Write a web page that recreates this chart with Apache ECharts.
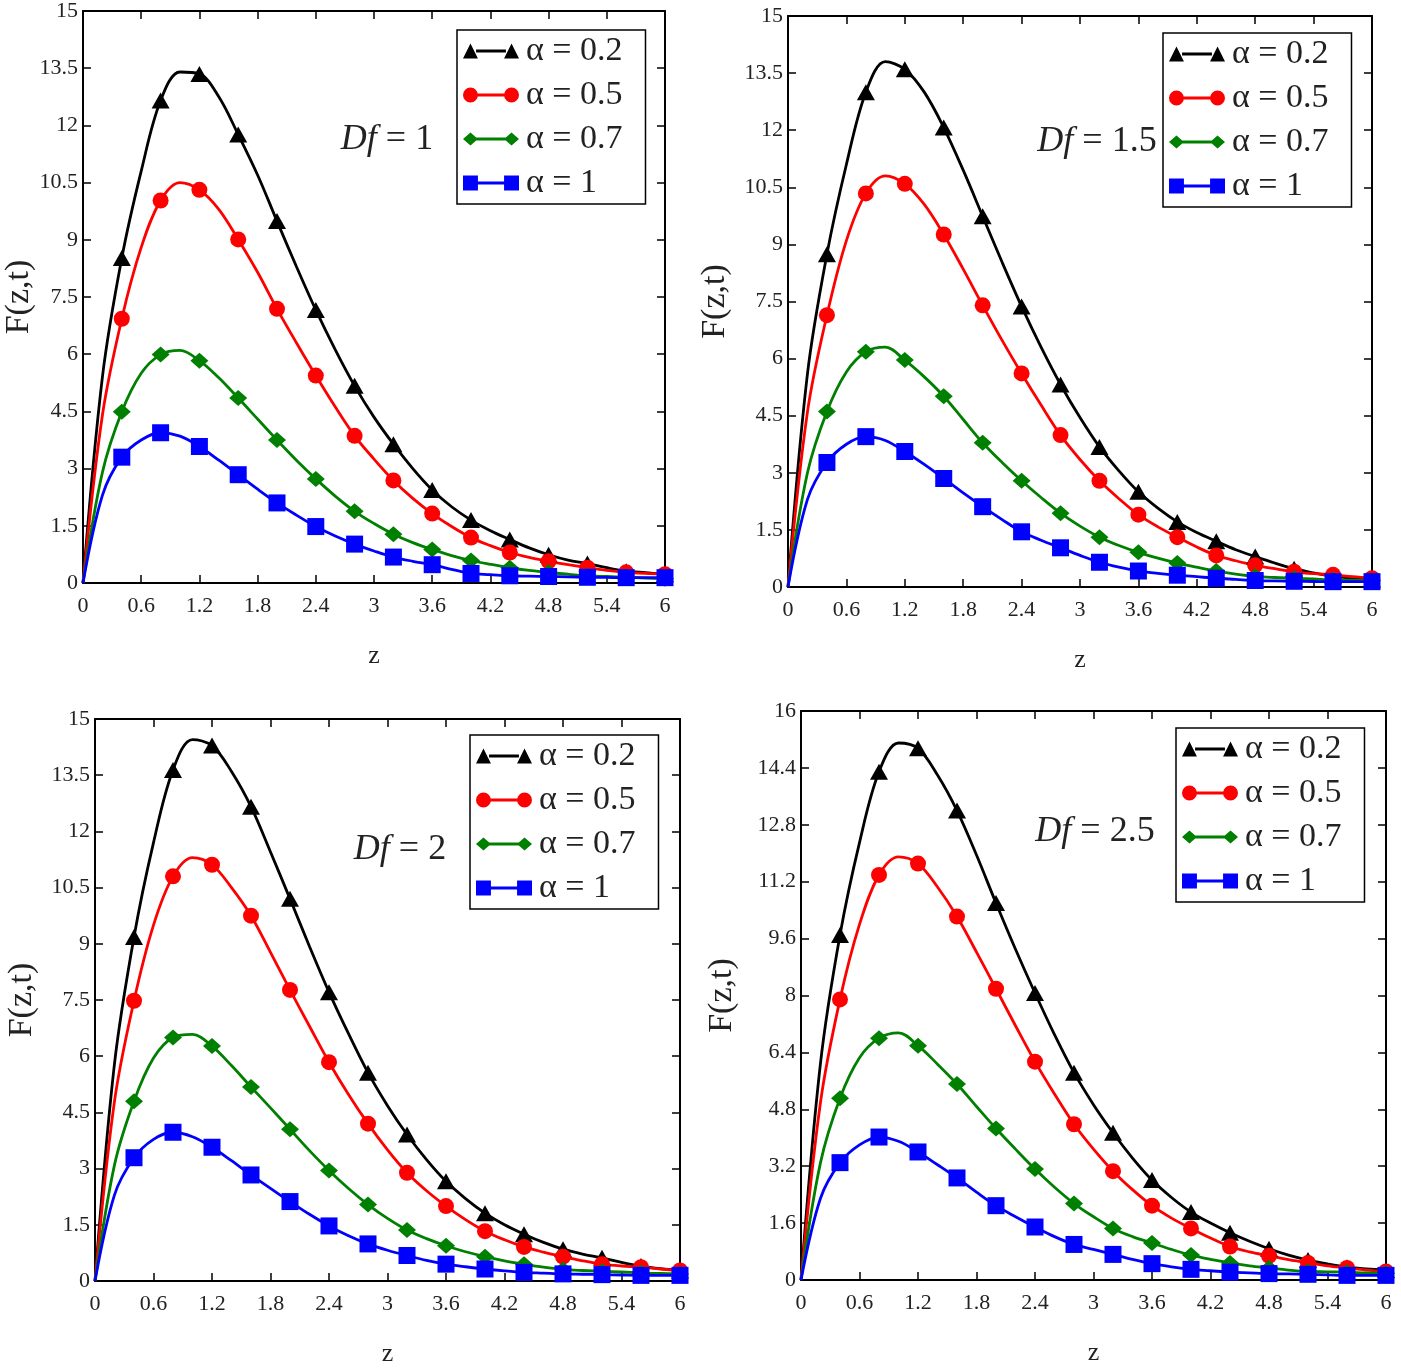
<!DOCTYPE html>
<html>
<head>
<meta charset="utf-8">
<script src="https://cdn.jsdelivr.net/npm/echarts@6/dist/echarts.min.js"></script>
<style>
  html, body { margin: 0; padding: 0; background: #fff; }
  #chart { width: 1401px; height: 1368px; }
</style>
</head>
<body>
<div id="chart"></div>
<script>
// z = 0, 0.2, ..., 6.0 (markers sit on multiples of 0.4)
const zVals = [0, 0.2, 0.4, 0.6, 0.8, 1.0, 1.2, 1.4, 1.6, 1.8, 2.0, 2.2, 2.4, 2.6, 2.8, 3.0,
               3.2, 3.4, 3.6, 3.8, 4.0, 4.2, 4.4, 4.6, 4.8, 5.0, 5.2, 5.4, 5.6, 5.8, 6.0];
const alphaNames = ['α = 0.2', 'α = 0.5', 'α = 0.7', 'α = 1'];
const dfValues = ['1', '1.5', '2', '2.5'];
const xTicks = [0, 6, 0.6];
const yTicks = [[0, 15, 1.5], [0, 15, 1.5], [0, 15, 1.5], [0, 16, 1.6]];

// Df = 1
const p1a02 = [0, 5.4, 8.52, 10.8, 12.65, 13.4, 13.35, 12.75, 11.76, 10.7, 9.49, 8.3, 7.16, 6.12, 5.17, 4.35, 3.64, 3.0, 2.44, 2.0, 1.65, 1.37, 1.14, 0.92, 0.74, 0.6, 0.51, 0.4, 0.31, 0.27, 0.23];
const p1a05 = [0, 4.4, 6.93, 8.8, 10.03, 10.5, 10.31, 9.8, 9.01, 8.15, 7.19, 6.3, 5.44, 4.62, 3.86, 3.25, 2.69, 2.22, 1.82, 1.48, 1.19, 0.98, 0.8, 0.67, 0.57, 0.48, 0.4, 0.33, 0.28, 0.25, 0.23];
const p1a07 = [0, 2.9, 4.49, 5.5, 5.99, 6.1, 5.83, 5.38, 4.85, 4.3, 3.75, 3.22, 2.73, 2.28, 1.88, 1.56, 1.28, 1.06, 0.88, 0.72, 0.59, 0.49, 0.4, 0.33, 0.28, 0.23, 0.19, 0.17, 0.15, 0.13, 0.11];
const p1a1  = [0, 2.3, 3.3, 3.75, 3.94, 3.85, 3.58, 3.22, 2.84, 2.46, 2.1, 1.78, 1.48, 1.23, 1.02, 0.84, 0.68, 0.57, 0.48, 0.36, 0.25, 0.22, 0.19, 0.18, 0.17, 0.16, 0.15, 0.145, 0.14, 0.14, 0.14];
// Df = 1.5
const p2a02 = [0, 5.6, 8.74, 11.1, 13.0, 13.8, 13.6, 13.0, 12.07, 10.95, 9.74, 8.53, 7.37, 6.3, 5.32, 4.45, 3.68, 3.05, 2.5, 2.07, 1.71, 1.43, 1.2, 0.98, 0.8, 0.63, 0.48, 0.37, 0.28, 0.23, 0.19];
const p2a05 = [0, 4.6, 7.14, 9.1, 10.34, 10.8, 10.59, 10.05, 9.26, 8.35, 7.4, 6.48, 5.61, 4.78, 3.99, 3.35, 2.79, 2.32, 1.9, 1.58, 1.31, 1.05, 0.83, 0.69, 0.57, 0.48, 0.4, 0.35, 0.32, 0.27, 0.23];
const p2a07 = [0, 3.0, 4.61, 5.65, 6.18, 6.3, 5.96, 5.52, 5.01, 4.4, 3.79, 3.27, 2.79, 2.35, 1.94, 1.6, 1.31, 1.09, 0.91, 0.76, 0.63, 0.52, 0.42, 0.34, 0.28, 0.25, 0.23, 0.21, 0.19, 0.18, 0.17];
const p2a1  = [0, 2.3, 3.27, 3.75, 3.95, 3.85, 3.56, 3.22, 2.85, 2.47, 2.11, 1.77, 1.45, 1.23, 1.03, 0.83, 0.65, 0.52, 0.42, 0.36, 0.31, 0.27, 0.23, 0.2, 0.17, 0.16, 0.15, 0.145, 0.14, 0.14, 0.14];
// Df = 2
const p3a02 = [0, 5.8, 9.18, 11.7, 13.64, 14.45, 14.29, 13.6, 12.66, 11.45, 10.2, 8.93, 7.71, 6.6, 5.56, 4.68, 3.91, 3.24, 2.66, 2.2, 1.81, 1.5, 1.25, 1.03, 0.85, 0.72, 0.62, 0.5, 0.4, 0.33, 0.28];
const p3a05 = [0, 4.8, 7.48, 9.5, 10.8, 11.3, 11.11, 10.5, 9.75, 8.77, 7.77, 6.8, 5.84, 4.98, 4.2, 3.5, 2.89, 2.41, 2.0, 1.64, 1.33, 1.1, 0.91, 0.77, 0.65, 0.54, 0.45, 0.4, 0.37, 0.32, 0.28];
const p3a07 = [0, 3.1, 4.8, 5.95, 6.5, 6.58, 6.27, 5.75, 5.18, 4.62, 4.05, 3.48, 2.95, 2.47, 2.04, 1.67, 1.36, 1.13, 0.94, 0.78, 0.65, 0.54, 0.45, 0.37, 0.31, 0.28, 0.26, 0.24, 0.22, 0.2, 0.19];
const p3a1  = [0, 2.3, 3.29, 3.78, 3.97, 3.85, 3.57, 3.21, 2.83, 2.47, 2.12, 1.78, 1.47, 1.21, 0.99, 0.82, 0.68, 0.55, 0.45, 0.38, 0.32, 0.27, 0.23, 0.21, 0.19, 0.18, 0.17, 0.16, 0.15, 0.15, 0.15];
// Df = 2.5
const p4a02 = [0, 6.1, 9.7, 12.3, 14.29, 15.1, 14.95, 14.2, 13.2, 11.95, 10.6, 9.3, 8.07, 6.9, 5.83, 4.93, 4.14, 3.43, 2.81, 2.32, 1.91, 1.6, 1.33, 1.09, 0.88, 0.7, 0.56, 0.45, 0.36, 0.31, 0.28];
const p4a05 = [0, 5.0, 7.89, 10.0, 11.39, 11.9, 11.71, 11.05, 10.22, 9.22, 8.19, 7.15, 6.14, 5.23, 4.38, 3.68, 3.06, 2.54, 2.09, 1.74, 1.45, 1.18, 0.94, 0.79, 0.68, 0.57, 0.48, 0.4, 0.34, 0.28, 0.24];
const p4a07 = [0, 3.3, 5.11, 6.25, 6.8, 6.95, 6.59, 6.07, 5.51, 4.88, 4.26, 3.68, 3.12, 2.61, 2.15, 1.78, 1.45, 1.22, 1.04, 0.86, 0.7, 0.58, 0.48, 0.4, 0.34, 0.28, 0.24, 0.23, 0.22, 0.2, 0.19];
const p4a1  = [0, 2.3, 3.3, 3.8, 4.02, 3.9, 3.6, 3.24, 2.87, 2.47, 2.09, 1.78, 1.49, 1.22, 1.0, 0.86, 0.72, 0.58, 0.46, 0.37, 0.3, 0.26, 0.22, 0.2, 0.18, 0.17, 0.16, 0.145, 0.13, 0.13, 0.13];

const panelData = [
  [p1a02, p1a05, p1a07, p1a1],
  [p2a02, p2a05, p2a07, p2a1],
  [p3a02, p3a05, p3a07, p3a1],
  [p4a02, p4a05, p4a07, p4a1]
];

const FONT = 'Liberation Serif';
const colors = ['#000000', '#ff0000', '#008000', '#0000ff'];
const symbols = ['triangle', 'circle', 'diamond', 'rect'];
const symSizes = [[18, 16], [16, 16], [18, 16], [17, 17]];
const legendIcons = [
  'path://M0,16 L8,0 L16,16 Z M14,6.5 H46 V9.5 H14 Z M44,16 L52,0 L60,16 Z',
  'path://M0,8 A8,8 0 1,1 16,8 A8,8 0 1,1 0,8 Z M14,6.5 H46 V9.5 H14 Z M44,8 A8,8 0 1,1 60,8 A8,8 0 1,1 44,8 Z',
  'path://M0,8 L8,1 L16,8 L8,15 Z M14,6.5 H46 V9.5 H14 Z M44,8 L52,1 L60,8 L52,15 Z',
  'path://M0,0 H16 V16 H0 Z M14,6.5 H46 V9.5 H14 Z M44,0 H60 V16 H44 Z'
];

// plot boxes [left, top, width, height]
const boxes = [[83, 11, 582, 572], [788, 16, 584, 571], [95, 719, 585, 570], [801, 711, 585, 569]];
const yNameGap = [44, 56, 56, 62];
const legendPos = [[457, 30], [1163, 33], [470, 735], [1176, 728]];
const dfCenter = [[387, 140], [1097, 142], [400, 850], [1095, 832]];

const chart = echarts.init(document.getElementById('chart'));

const grid = [], xAxis = [], yAxis = [], series = [], legend = [], graphic = [];

function isMarker(z) {
  const k = z / 0.4;
  return z > 0 && Math.abs(k - Math.round(k)) < 1e-6;
}

boxes.forEach((b, p) => {
  grid.push({ left: b[0], top: b[1], width: b[2], height: b[3], containLabel: false });
  const tick = () => ({ show: true, inside: true, length: 8, lineStyle: { color: '#000', width: 1.5 } });
  const line = () => ({ show: true, onZero: false, lineStyle: { color: '#000', width: 2 } });
  const lbl = { fontFamily: FONT, fontSize: 22, color: '#222' };
  xAxis.push({
    type: 'value', gridIndex: p, min: xTicks[0], max: xTicks[1], interval: xTicks[2],
    name: 'z', nameLocation: 'middle', nameGap: 60,
    nameTextStyle: { fontFamily: FONT, fontSize: 26, color: '#222' },
    axisLine: line(), axisTick: tick(), splitLine: { show: false },
    axisLabel: Object.assign({ margin: 12 }, lbl)
  });
  xAxis.push({
    type: 'value', gridIndex: p, position: 'top', min: xTicks[0], max: xTicks[1], interval: xTicks[2],
    axisLine: line(), axisTick: tick(), splitLine: { show: false }, axisLabel: { show: false }
  });
  const yt = yTicks[p];
  yAxis.push({
    type: 'value', gridIndex: p, min: yt[0], max: yt[1], interval: yt[2],
    name: 'F(z,t)', nameLocation: 'middle', nameGap: yNameGap[p],
    nameTextStyle: { fontFamily: FONT, fontSize: 34, color: '#222' },
    axisLine: line(), axisTick: tick(), splitLine: { show: false },
    axisLabel: Object.assign({ margin: 5 }, lbl)
  });
  yAxis.push({
    type: 'value', gridIndex: p, position: 'right', min: yt[0], max: yt[1], interval: yt[2],
    axisLine: line(), axisTick: tick(), splitLine: { show: false }, axisLabel: { show: false }
  });

  panelData[p].forEach((vals, s) => {
    const sz = symSizes[s];
    series.push({
      name: alphaNames[s],
      type: 'line',
      xAxisIndex: p * 2,
      yAxisIndex: p * 2,
      data: zVals.map((z, i) => [z, vals[i]]),
      smooth: 0.35,
      symbol: symbols[s],
      symbolSize: function (val) { return isMarker(val[0]) ? sz : 0; },
      showAllSymbol: true,
      lineStyle: { color: colors[s], width: 2.8 },
      itemStyle: { color: colors[s], borderWidth: 0 },
      emphasis: { disabled: true },
      animation: false
    });
  });

  legend.push({
    left: legendPos[p][0], top: legendPos[p][1],
    orient: 'vertical',
    data: alphaNames.map((n, s) => ({ name: n, icon: legendIcons[s] })),
    itemWidth: 56, itemHeight: 16, itemGap: 10,
    padding: [4, 23, 4, 6],
    borderColor: '#000', borderWidth: 1.5, backgroundColor: '#fff',
    textStyle: { fontFamily: FONT, fontSize: 34, color: '#222', lineHeight: 30, padding: [0, 0, 0, 2] },
    selectedMode: false
  });

  graphic.push({
    type: 'text',
    x: dfCenter[p][0], y: dfCenter[p][1],
    style: {
      text: '{i|Df} = ' + dfValues[p],
      font: '36px "Liberation Serif"',
      fill: '#222',
      align: 'center',
      verticalAlign: 'middle',
      rich: { i: { fontFamily: FONT, fontSize: 36, fontStyle: 'italic', fill: '#222' } }
    }
  });
});

chart.setOption({
  animation: false,
  backgroundColor: '#fff',
  grid: grid,
  xAxis: xAxis,
  yAxis: yAxis,
  legend: legend,
  graphic: graphic,
  series: series
});
</script>
</body>
</html>
